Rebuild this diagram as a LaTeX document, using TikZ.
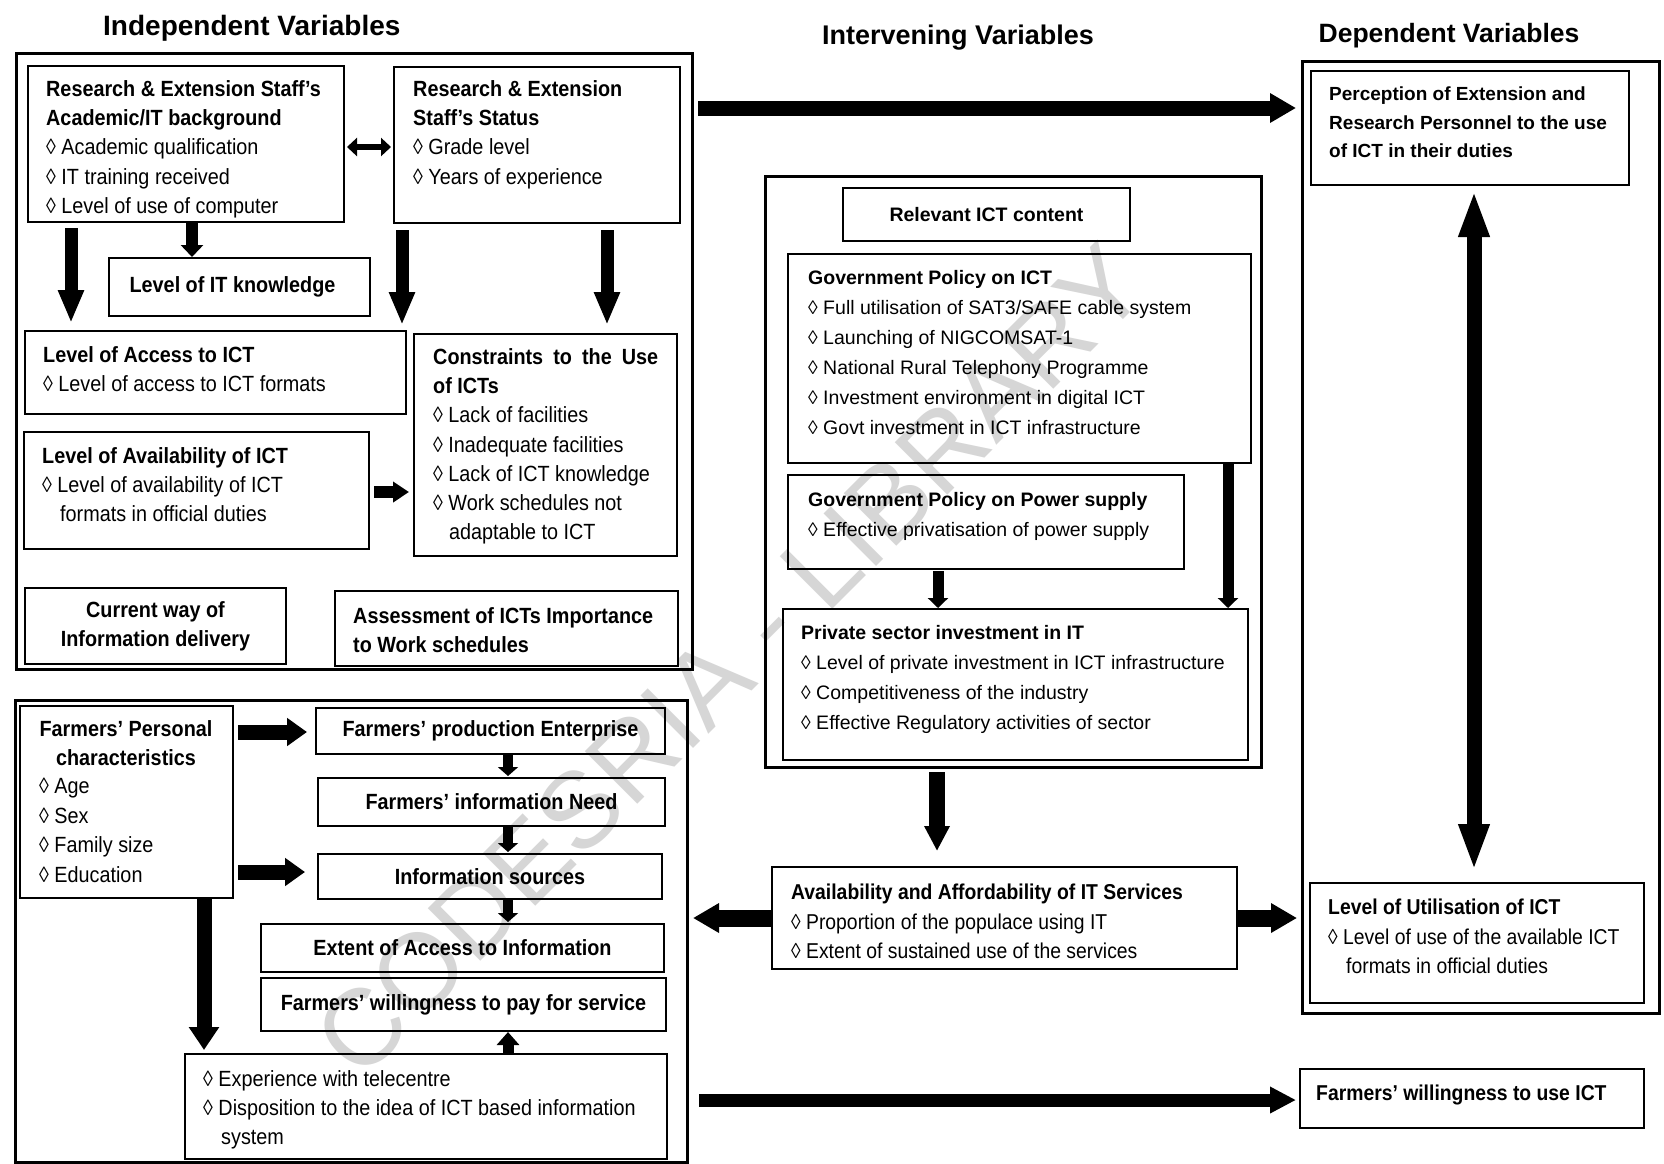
\documentclass[tikz,border=0pt]{standalone}
\usepackage{fontspec}
\setmainfont{Liberation Sans}
\newfontfamily\nar{Liberation Sans}[FakeStretch=0.9]
\usetikzlibrary{arrows.meta}

% font presets: condensed boxes and normal-width boxes
\newcommand\fN{\nar\fontsize{22}{29.3}\selectfont}
\newcommand\fW{\fontsize{19.5}{30}\selectfont}

% box node from its top-left and bottom-right corners
\newcommand\mkbox[7][box]{\node[#1,anchor=north west,minimum width={#5-#3},minimum height={#6-#4}] (#2) at (#3,#4) {#7};}

\begin{document}
\begin{tikzpicture}[x=1pt,y=-1pt,
  box/.style={draw, line width=2pt, inner sep=0pt},
  outer/.style={draw, line width=3pt, inner sep=0pt},
  txt/.style={inner sep=0pt, anchor=north west, align=left},
  fa/.style n args={3}{line width=#1, -{Triangle[length=#3,width=#2]}},
  fd/.style n args={3}{line width=#1, {Triangle[length=#3,width=#2]}-{Triangle[length=#3,width=#2]}},
]
\fill[white] (0,0) rectangle (1664,1163);
\useasboundingbox (0,0) rectangle (1664,1163);

% watermark
\node[rotate=45, text=black!16, inner sep=0pt, font=\fontsize{108}{110}\selectfont] (wm) at (730,660) {CODESRIA - LIBRARY};

% column headings
\node[txt, font=\fontsize{28}{30}\selectfont\bfseries] (tInd) at (103,15) {Independent Variables};
\node[txt, anchor=north, font=\fontsize{27}{30}\selectfont\bfseries] (tInt) at (958,25) {Intervening Variables};
\node[txt, anchor=north, font=\fontsize{26.5}{30}\selectfont\bfseries] (tDep) at (1449,23) {Dependent Variables};

% ---------------- independent variables: staff ----------------
\mkbox[outer]{indep}{15}{52}{691}{668}{}
\mkbox{acad}{27}{65}{343}{221}{}
\node[txt, font=\fN] (acadT) at (46,80) {\textbf{Research \& Extension Staff’s}\\\textbf{Academic/IT background}\\◊ Academic qualification\\◊ IT training received\\◊ Level of use of computer};
\mkbox{status}{393}{66}{679}{222}{}
\node[txt, font=\fN] (statusT) at (413,80) {\textbf{Research \& Extension}\\\textbf{Staff’s Status}\\◊ Grade level\\◊ Years of experience};
\mkbox[box,font=\fN\bfseries]{itk}{108}{257}{369}{315}{\raisebox{3pt}{Level of IT knowledge}\hspace*{14pt}}
\mkbox{access}{24}{330}{405}{413}{}
\node[txt, font=\fN] (accessT) at (43,346) {\textbf{Level of Access to ICT}\\◊ Level of access to ICT formats};
\mkbox{constr}{413}{333}{676}{555}{}
\node[txt, font=\fN] (constrT) at (433,348) {\textbf{\makebox[225pt][s]{Constraints to the Use}}\\\textbf{of ICTs}\\◊ Lack of facilities\\◊ Inadequate facilities\\◊ Lack of ICT knowledge\\◊ Work schedules not\\\hspace*{16pt}adaptable to ICT};
\mkbox{avail}{23}{431}{368}{548}{}
\node[txt, font=\fN] (availT) at (42,447) {\textbf{Level of Availability of ICT}\\◊ Level of availability of ICT\\\hspace*{18pt}formats in official duties};
\mkbox[box,font=\fN\bfseries,align=center]{current}{24}{587}{285}{663}{Current way of\\Information delivery}
\mkbox{assess}{334}{590}{677}{665}{}
\node[txt, font=\fN\bfseries] (assessT) at (353,607) {Assessment of ICTs Importance\\to Work schedules};

% ---------------- independent variables: farmers ----------------
\mkbox[outer]{farm}{14}{699}{686}{1161}{}
\mkbox{pers}{19}{705}{232}{897}{}
\node[txt, anchor=north, align=center, font=\fN\bfseries] (persH) at (126,720) {Farmers’ Personal\\characteristics};
\node[txt, font=\nar\fontsize{22}{29.6}\selectfont] (persT) at (39,778) {◊ Age\\◊ Sex\\◊ Family size\\◊ Education};
\mkbox[box,font=\fN\bfseries]{prod}{315}{707}{664}{753}{Farmers’ production Enterprise}
\mkbox[box,font=\fN\bfseries]{need}{317}{777}{664}{825}{Farmers’ information Need}
\mkbox[box,font=\fN\bfseries]{src}{317}{853}{661}{898}{Information sources}
\mkbox[box,font=\fN\bfseries]{extent}{260}{923}{663}{971}{Extent of Access to Information}
\mkbox[box,font=\fN\bfseries]{pay}{260}{977}{665}{1030}{Farmers’ willingness to pay for service}
\mkbox{exper}{184}{1053}{666}{1158}{}
\node[txt, font=\fN] (experT) at (203,1070) {◊ Experience with telecentre\\◊ Disposition to the idea of ICT based information\\\hspace*{18pt}system};

% ---------------- intervening variables ----------------
\mkbox[outer]{interv}{764}{175}{1260}{766}{}
\mkbox[box,font=\fW\bfseries]{rel}{842}{187}{1129}{240}{Relevant ICT content}
\mkbox{govict}{787}{253}{1250}{462}{}
\node[txt, font=\fW] (govictT) at (808,270) {\textbf{Government Policy on ICT}\\◊ Full utilisation of SAT3/SAFE cable system\\◊ Launching of NIGCOMSAT-1\\◊ National Rural Telephony Programme\\◊ Investment environment in digital ICT\\◊ Govt investment in ICT infrastructure};
\mkbox{govpow}{787}{474}{1183}{568}{}
\node[txt, font=\fW] (govpowT) at (808,492) {\textbf{Government Policy on Power supply}\\◊ Effective privatisation of power supply};
\mkbox{priv}{782}{608}{1247}{759}{}
\node[txt, font=\fW] (privT) at (801,625) {\textbf{Private sector investment in IT}\\◊ Level of private investment in ICT infrastructure\\◊ Competitiveness of the industry\\◊ Effective Regulatory activities of sector};
\mkbox{availIT}{771}{866}{1236}{968}{}
\node[txt, font=\nar\fontsize{21.5}{29.5}\selectfont] (availITT) at (791,884) {\textbf{Availability and Affordability of IT Services}\\◊ Proportion of the populace using IT\\◊ Extent of sustained use of the services};

% ---------------- dependent variables ----------------
\mkbox[outer]{dep}{1301}{60}{1658}{1012}{}
\mkbox{perc}{1310}{70}{1628}{184}{}
\node[txt, font=\fontsize{19}{28.5}\selectfont\bfseries] (percT) at (1329,87) {Perception of Extension and\\Research Personnel to the use\\of ICT in their duties};
\mkbox{util}{1309}{882}{1643}{1002}{}
\node[txt, font=\nar\fontsize{21.5}{29.5}\selectfont] (utilT) at (1328,899) {\textbf{Level of Utilisation of ICT}\\◊ Level of use of the available ICT\\\hspace*{18pt}formats in official duties};
\mkbox{willuse}{1299}{1068}{1643}{1127}{}
\node[txt, font=\nar\fontsize{21.5}{29.5}\selectfont\bfseries] (willT) at (1316,1085) {Farmers’ willingness to use ICT};

% ---------------- connectors ----------------
\coordinate (h1) at (0,147);
\coordinate (h2) at (0,492);
\coordinate (h3) at (0,108);
\coordinate (h4) at (0,732);
\coordinate (h5) at (0,872);
\coordinate (h6) at (0,918);
\coordinate (h7) at (0,1100);
\coordinate (v1) at (192,0);
\coordinate (v2) at (71,0);
\coordinate (v3) at (402,0);
\coordinate (v4) at (607,0);
\coordinate (v5) at (508,0);
\coordinate (v6) at (204,0);
\coordinate (v7) at (938,0);
\coordinate (v8) at (1228,0);
\coordinate (v9) at (937,0);
\coordinate (v10) at (1474,0);

\draw[fd={6pt}{18pt}{10pt}, shorten <=2pt, shorten >=2pt] (acad.east |- h1) -- (status.west |- h1);
\draw[fa={12pt}{22pt}{12pt}] (acad.south -| v1) -- (itk.north -| v1);
\draw[fa={13pt}{24pt}{33pt}, shorten <=5pt, shorten >=7pt] (acad.south -| v2) -- (access.north -| v2);
\draw[fa={13pt}{24pt}{33pt}, shorten <=6pt, shorten >=5pt] (status.south -| v3) -- (access.north -| v3);
\draw[fa={13pt}{24pt}{33pt}, shorten <=6pt, shorten >=8pt] (status.south -| v4) -- (constr.north -| v4);
\draw[fa={12pt}{20pt}{16pt}, shorten <=4pt, shorten >=4pt] (avail.east |- h2) -- (constr.west |- h2);
\draw[fa={15pt}{28pt}{26pt}, shorten <=4pt, shorten >=5pt] (indep.east |- h3) -- (dep.west |- h3);

\draw[fa={15pt}{27pt}{20pt}, shorten <=4pt, shorten >=8pt] (pers.east |- h4) -- (prod.west |- h4);
\draw[fa={15pt}{27pt}{20pt}, shorten <=4pt, shorten >=12pt] (pers.east |- h5) -- (src.west |- h5);
\draw[fa={10pt}{20pt}{9pt}, shorten >=1pt] (prod.south -| v5) -- (need.north -| v5);
\draw[fa={10pt}{20pt}{9pt}, shorten >=1pt] (need.south -| v5) -- (src.north -| v5);
\draw[fa={10pt}{20pt}{9pt}, shorten >=1pt] (src.south -| v5) -- (extent.north -| v5);
\draw[fa={11pt}{22pt}{13pt}] (exper.north -| v5) -- (pay.south -| v5);
\draw[fa={15pt}{29pt}{23pt}, shorten >=3pt] (pers.south -| v6) -- (exper.north -| v6);

\draw[fa={11pt}{20pt}{10pt}, shorten <=1pt] (govpow.south -| v7) -- (priv.north -| v7);
\draw[fa={11pt}{20pt}{10pt}] (govict.south -| v8) -- (priv.north -| v8);
\draw[fa={16pt}{24pt}{25pt}, shorten <=3pt, shorten >=15pt] (interv.south -| v9) -- (availIT.north -| v9);
\draw[fa={17pt}{28pt}{26pt}, shorten >=4pt] (availIT.west |- h6) -- (farm.east |- h6);
\draw[fa={17pt}{28pt}{26pt}, shorten >=4pt] (availIT.east |- h6) -- (dep.west |- h6);

\draw[fd={15pt}{28pt}{47pt}, shorten <=4pt, shorten >=11pt] (perc.south -| v10) -- (util.north -| v10);
\draw[fa={13pt}{25pt}{26pt}, shorten <=10pt, shorten >=3pt] (farm.east |- h7) -- (willuse.west |- h7);
\end{tikzpicture}
\end{document}
